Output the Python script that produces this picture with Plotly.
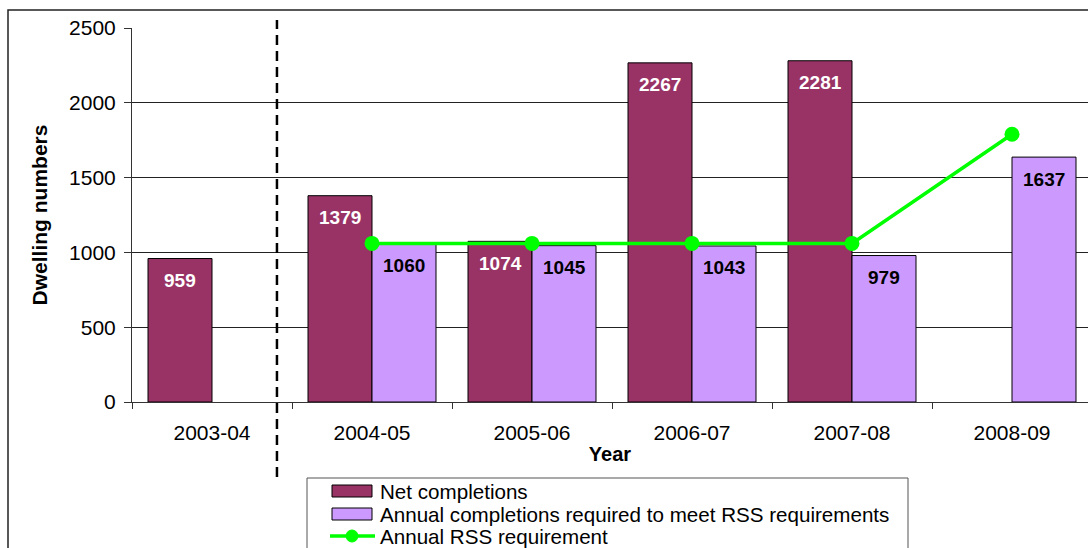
import plotly.graph_objects as go

years = ["2003-04", "2004-05", "2005-06", "2006-07", "2007-08", "2008-09"]
net_completions = [959, 1379, 1074, 2267, 2281, None]
required_completions = [None, 1060, 1045, 1043, 979, 1637]
rss_requirement = [None, 1060, 1060, 1060, 1060, 1790]
series_names = ["Net completions",
                "Annual completions required to meet RSS requirements",
                "Annual RSS requirement"]

MAROON = "#993366"
LILAC = "#CC99FF"
GREEN = "#00FF00"
FONT = "Liberation Sans, Arial, sans-serif"

# plot area geometry (pixels) used for positioning legend in paper coords
L, R, T, B = 132, 0, 28, 146
W, H = 1088, 548
PW, PH = W - L - R, H - T - B


def px2x(px):
    return (px - L) / PW


def px2y(py):
    return (H - B - py) / PH


fig = go.Figure()
fig.add_trace(go.Bar(
    x=years, y=net_completions, name=series_names[0],
    marker=dict(color=MAROON, line=dict(color="black", width=1)),
))
fig.add_trace(go.Bar(
    x=years, y=required_completions, name=series_names[1],
    marker=dict(color=LILAC, line=dict(color="black", width=1)),
))
fig.add_trace(go.Scatter(
    x=years, y=rss_requirement, name=series_names[2],
    mode="lines+markers",
    line=dict(color=GREEN, width=3.5),
    marker=dict(color=GREEN, size=15),
))

annotations = []
for yr, v in zip(years, net_completions):
    if v is not None:
        annotations.append(dict(x=yr, y=v, xref="x", yref="y", text=f"<b>{v}</b>",
                                showarrow=False, xshift=-32, yshift=-22,
                                font=dict(family=FONT, size=19, color="white")))
for yr, v in zip(years, required_completions):
    if v is not None:
        annotations.append(dict(x=yr, y=v, xref="x", yref="y", text=f"<b>{v}</b>",
                                showarrow=False, xshift=32, yshift=-22,
                                font=dict(family=FONT, size=19, color="black")))

shapes = [
    # outer chart border (cropped on right and bottom)
    dict(type="rect", xref="paper", yref="paper", x0=px2x(8), x1=px2x(1200),
         y0=px2y(700), y1=px2y(10),
         line=dict(color="#222222", width=1.5), fillcolor="rgba(0,0,0,0)", layer="below"),
    # dashed separator
    dict(type="line", xref="x", yref="paper", x0=0.406, x1=0.406,
         y0=px2y(477), y1=px2y(20),
         line=dict(color="black", width=2.5, dash="10px,6px")),
    # legend box
    dict(type="rect", xref="paper", yref="paper", x0=px2x(307), x1=px2x(908),
         y0=px2y(700), y1=px2y(478),
         line=dict(color="#555555", width=1), fillcolor="white"),
]

# legend entries
row_y = [491, 514, 536]
for i, (name, yy) in enumerate(zip(series_names, row_y)):
    if i < 2:
        shapes.append(dict(type="rect", xref="paper", yref="paper",
                           x0=px2x(332), x1=px2x(372), y0=px2y(yy + 6), y1=px2y(yy - 6),
                           line=dict(color="black", width=1),
                           fillcolor=[MAROON, LILAC][i]))
    else:
        shapes.append(dict(type="line", xref="paper", yref="paper",
                           x0=px2x(330), x1=px2x(375), y0=px2y(yy), y1=px2y(yy),
                           line=dict(color=GREEN, width=3.5)))
        shapes.append(dict(type="circle", xref="paper", yref="paper",
                           x0=px2x(346), x1=px2x(358), y0=px2y(yy + 6), y1=px2y(yy - 6),
                           line=dict(color=GREEN, width=1), fillcolor=GREEN))
    annotations.append(dict(x=px2x(378), y=px2y(yy), xref="paper", yref="paper",
                            xanchor="left", yanchor="middle", showarrow=False,
                            text=name, font=dict(family=FONT, size=20.6, color="black")))

fig.update_layout(
    width=W, height=H,
    margin=dict(l=L, r=R, t=T, b=B, autoexpand=False),
    paper_bgcolor="white", plot_bgcolor="white",
    font=dict(family=FONT, size=21, color="black"),
    barmode="group", bargap=0.2, bargroupgap=0,
    showlegend=False,
    annotations=annotations,
    shapes=shapes,
)
fig.update_xaxes(
    type="category", range=[-0.5, 5.475],
    showline=True, linecolor="#333333", linewidth=1,
    ticks="outside", tickson="boundaries", ticklen=6, tickcolor="#333333",
    ticklabelstandoff=12,
    showgrid=False,
    title=dict(text="<b>Year</b>", standoff=3, font=dict(size=20)),
    tickfont=dict(size=21),
)
fig.update_yaxes(
    range=[0, 2500], dtick=500,
    showline=True, linecolor="#333333", linewidth=1,
    ticks="outside", ticklen=7, tickcolor="#333333",
    ticklabelstandoff=4,
    showgrid=True, gridcolor="#222222", gridwidth=1,
    zeroline=False,
    title=dict(text="<b>Dwelling numbers</b>", standoff=15, font=dict(size=21)),
    tickfont=dict(size=21),
)

fig.write_html("out.html")
